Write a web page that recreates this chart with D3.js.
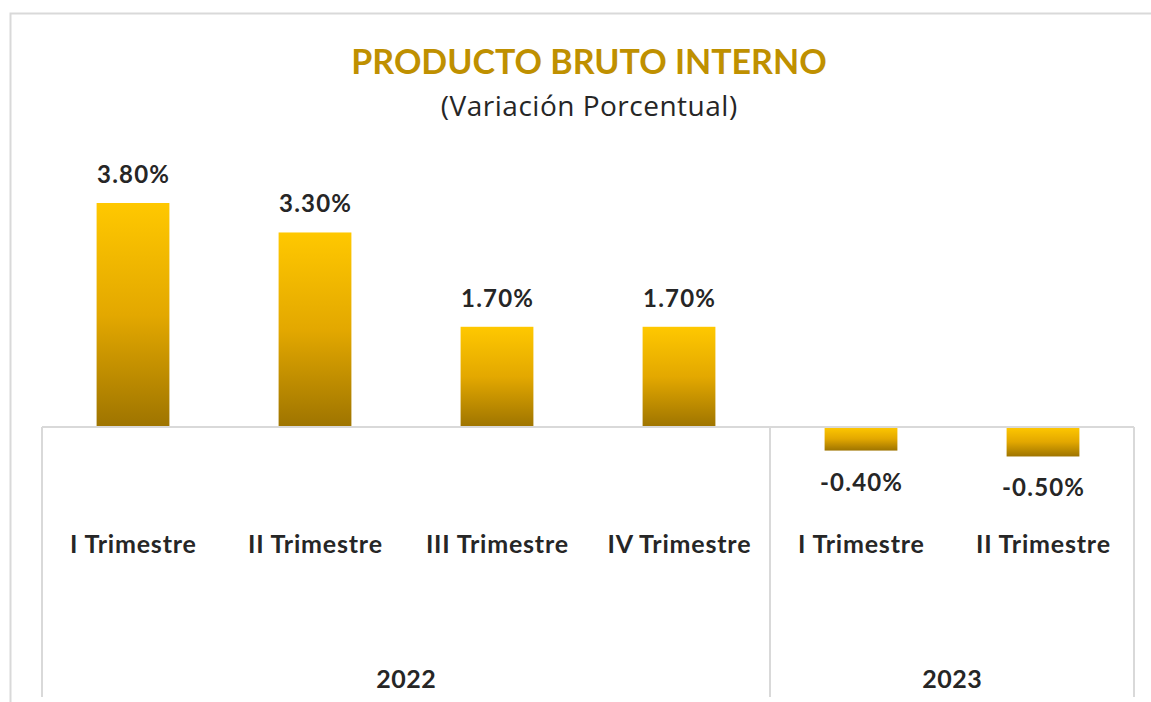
<!DOCTYPE html>
<html>
<head>
<meta charset="utf-8">
<script src="https://cdn.jsdelivr.net/npm/d3@7"></script>
<style>
  html, body { margin: 0; padding: 0; background: #fff; }
  svg { display: block; }
  text { font-family: Lato, "Open Sans", sans-serif; }
</style>
</head>
<body>
<div id="chart"></div>
<script>
const categories = ["I Trimestre", "II Trimestre", "III Trimestre", "IV Trimestre", "I Trimestre", "II Trimestre"];
const years = ["2022", "2022", "2022", "2022", "2023", "2023"];
const values = [3.8, 3.3, 1.7, 1.7, -0.4, -0.5];
const valueLabels = ["3.80%", "3.30%", "1.70%", "1.70%", "-0.40%", "-0.50%"];
const yearGroups = ["2022", "2023"];
const title = "PRODUCTO BRUTO INTERNO";
const subtitle = "(Variación Porcentual)";

const W = 1151, H = 702;
const svg = d3.select("#chart").append("svg").attr("width", W).attr("height", H);

const defs = svg.append("defs");
const grad = defs.append("linearGradient").attr("id", "barGrad")
  .attr("x1", 0).attr("y1", 0).attr("x2", 0).attr("y2", 1);
grad.append("stop").attr("offset", "0%").attr("stop-color", "#FFC800");
grad.append("stop").attr("offset", "50%").attr("stop-color", "#E3A800");
grad.append("stop").attr("offset", "100%").attr("stop-color", "#9E7400");

// outer chart border
svg.append("rect").attr("x", 10.5).attr("y", 13.5).attr("width", W + 20).attr("height", H + 20)
  .attr("fill", "none").attr("stroke", "#d9d9d9").attr("stroke-width", 2);

const left = 42, right = 1134, zeroY = 427, bottom = 697;

const x = d3.scaleBand().domain(d3.range(categories.length)).range([left, right]).paddingInner(0.6).paddingOuter(0.3);
const xOuter = d3.scaleBand().domain(d3.range(categories.length)).range([left, right]);
const y = d3.scaleLinear().domain([0, 3.8]).range([zeroY, 203]);

// centered text helper that compensates trailing letter-spacing
function spaced(sel, ls) {
  sel.attr("letter-spacing", ls).attr("dx", ls / 2);
}

// title
svg.append("text").attr("x", 589).attr("y", 74).attr("text-anchor", "middle")
  .attr("font-size", 34).attr("font-weight", "bold").attr("fill", "#BF9000").text(title);
svg.append("text").attr("x", 589).attr("y", 116).attr("text-anchor", "middle")
  .style("font-family", "'Open Sans', sans-serif")
  .attr("font-size", 28).attr("fill", "#262626").text(subtitle).call(spaced, 0.5);

// bars
svg.selectAll("rect.bar").data(values).join("rect").attr("class", "bar")
  .attr("x", (d, i) => x(i))
  .attr("width", x.bandwidth())
  .attr("y", d => y(Math.max(0, d)))
  .attr("height", d => Math.abs(y(d) - y(0)))
  .attr("fill", "url(#barGrad)");

// value labels
svg.selectAll("text.val").data(values).join("text").attr("class", "val")
  .attr("x", (d, i) => x(i) + x.bandwidth() / 2)
  .attr("y", d => d >= 0 ? y(d) - 20 : y(d) + 40)
  .attr("text-anchor", "middle").attr("font-size", 24).attr("font-weight", "bold")
  .attr("fill", "#262626").text((d, i) => valueLabels[i]).call(spaced, 1.2);

// axis box lines
const axisColor = "#d9d9d9";
svg.append("line").attr("x1", left).attr("x2", right).attr("y1", zeroY).attr("y2", zeroY)
  .attr("stroke", axisColor).attr("stroke-width", 2);
const seps = [0];
for (let i = 1; i < years.length; i++) if (years[i] !== years[i - 1]) seps.push(i);
seps.forEach(i => {
  svg.append("line").attr("x1", xOuter(i)).attr("x2", xOuter(i)).attr("y1", zeroY).attr("y2", bottom)
    .attr("stroke", axisColor).attr("stroke-width", 2);
});
svg.append("line").attr("x1", right).attr("x2", right).attr("y1", zeroY).attr("y2", bottom)
  .attr("stroke", axisColor).attr("stroke-width", 2);

// category labels
svg.selectAll("text.cat").data(categories).join("text").attr("class", "cat")
  .attr("x", (d, i) => xOuter(i) + xOuter.bandwidth() / 2)
  .attr("y", 553).attr("text-anchor", "middle").attr("font-size", 25).attr("font-weight", "bold")
  .attr("fill", "#262626").text(d => d).call(spaced, 0.8);

// year labels
yearGroups.forEach(yr => {
  const idx = years.map((v, i) => v === yr ? i : -1).filter(i => i >= 0);
  const x0 = xOuter(idx[0]), x1 = xOuter(idx[idx.length - 1]) + xOuter.bandwidth();
  svg.append("text").attr("x", (x0 + x1) / 2).attr("y", 688).attr("text-anchor", "middle")
    .attr("font-size", 25).attr("font-weight", "bold").attr("fill", "#262626").text(yr).call(spaced, 0.5);
});
</script>
</body>
</html>
